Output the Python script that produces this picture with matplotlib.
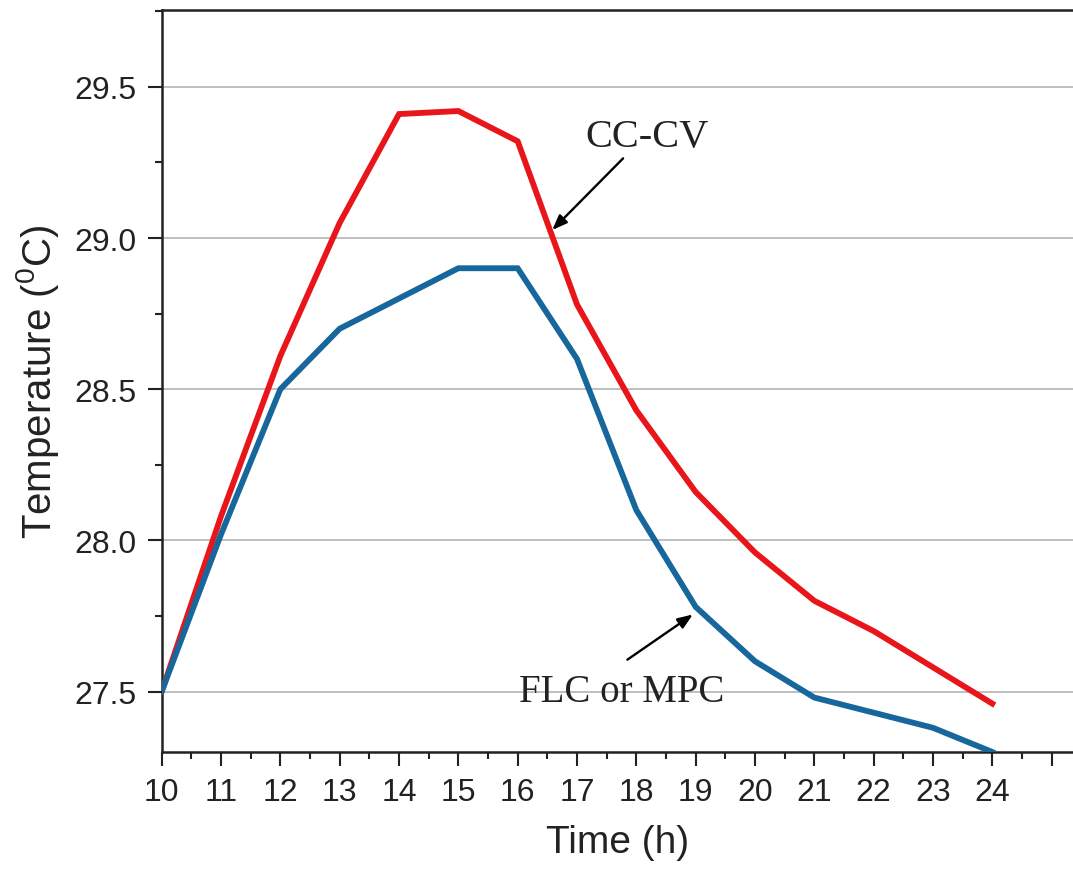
import matplotlib
matplotlib.use("Agg")
import matplotlib.pyplot as plt
from matplotlib.ticker import MultipleLocator, FixedLocator, FixedFormatter

plt.rcParams["font.family"] = ["Liberation Sans", "DejaVu Sans"]
plt.rcParams["mathtext.fontset"] = "custom"
plt.rcParams["mathtext.rm"] = "Liberation Sans"
plt.rcParams["mathtext.it"] = "Liberation Sans"

hours = [10, 11, 12, 13, 14, 15, 16, 17, 18, 19, 20, 21, 22, 23, 24]
temp_cccv = [27.50, 28.08, 28.61, 29.05, 29.41, 29.42, 29.32, 28.78, 28.43,
             28.16, 27.96, 27.80, 27.70, 27.58, 27.46]
temp_flc = [27.50, 28.02, 28.50, 28.70, 28.80, 28.90, 28.90, 28.60, 28.10,
            27.78, 27.60, 27.48, 27.43, 27.38, 27.30]
xtick_labels = [str(h) for h in hours] + [""]

fig = plt.figure(figsize=(10.73, 8.70), dpi=100)
ax = fig.add_axes([0.1507, 0.1345, 0.8493, 0.8528])

ax.plot(hours, temp_cccv, color="#e8161b", lw=4.2, solid_joinstyle="miter", zorder=3)
ax.plot(hours, temp_flc, color="#17679c", lw=4.2, solid_joinstyle="miter", zorder=3)

ax.set_xlim(10, 25.36)
ax.set_ylim(27.30, 29.754)

ax.xaxis.set_major_locator(FixedLocator(list(range(10, 26))))
ax.xaxis.set_major_formatter(FixedFormatter(xtick_labels))
ax.xaxis.set_minor_locator(MultipleLocator(0.5))
ax.yaxis.set_major_locator(FixedLocator([27.5, 28.0, 28.5, 29.0, 29.5]))
ax.yaxis.set_major_formatter(plt.FormatStrFormatter("%.1f"))
ax.yaxis.set_minor_locator(MultipleLocator(0.25))

ax.tick_params(which="major", direction="out", length=10, width=1.5,
               labelsize=23, pad=8, colors="#222222")
ax.tick_params(which="minor", direction="out", length=5, width=1.5, color="#222222")

ax.grid(axis="y", which="major", color="#b4b4b4", lw=1.2, zorder=0)

for side in ["left", "bottom", "top"]:
    ax.spines[side].set_linewidth(1.8)
    ax.spines[side].set_color("#222222")
ax.spines["right"].set_visible(False)

ax.set_xlabel("Time (h)", fontsize=28, labelpad=12, color="#222222")
ax.set_ylabel(r"Temperature ($^{0}$C)", fontsize=29, labelpad=10, color="#222222")

arrow = dict(arrowstyle="-|>,head_length=0.9,head_width=0.35", color="black", lw=1.7)
ax.annotate("", xy=(16.55, 29.02), xytext=(17.81, 29.27), arrowprops=arrow, zorder=4)
ax.annotate("", xy=(18.99, 27.76), xytext=(17.81, 27.60), arrowprops=arrow, zorder=4)
ax.text(18.18, 29.335, "CC-CV", family="Liberation Serif", fontsize=29,
        ha="center", va="center", color="#222222",
        bbox=dict(facecolor="white", edgecolor="none", pad=1))
ax.text(17.76, 27.50, "FLC or MPC", family="Liberation Serif", fontsize=28,
        ha="center", va="center", color="#222222")

fig.savefig("out.png", dpi=100)
